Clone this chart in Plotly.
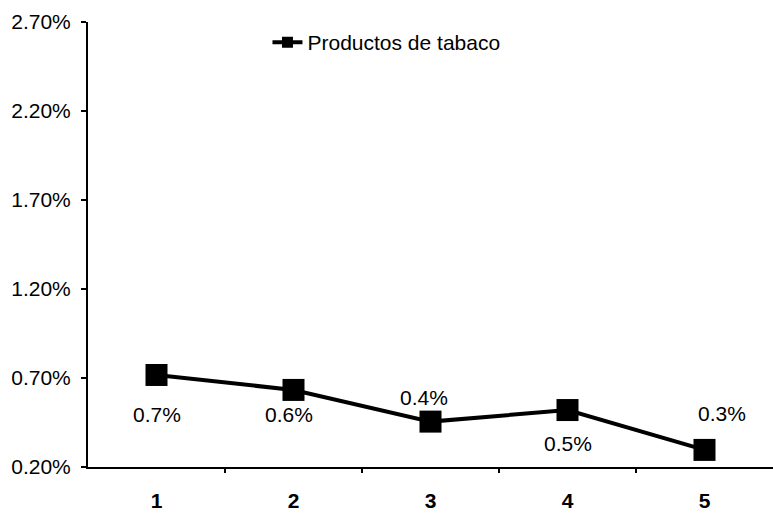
import plotly.graph_objects as go

categories = [1, 2, 3, 4, 5]
values = [0.717, 0.633, 0.455, 0.52, 0.296]
value_labels = ["0.7%", "0.6%", "0.4%", "0.5%", "0.3%"]
label_dy = [-40, -25, 24, -33, 36]
label_dx = [0, -5, -7, 0, 17]
y_ticks = [0.20, 0.70, 1.20, 1.70, 2.20, 2.70]
y_tick_text = ["0.20%", "0.70%", "1.20%", "1.70%", "2.20%", "2.70%"]
series_name = "Productos de tabaco"

FONT = "Liberation Sans, Arial, sans-serif"
FS = 21

fig = go.Figure()
fig.add_trace(go.Scatter(
    x=categories, y=values, mode="lines+markers", name=series_name,
    line=dict(color="black", width=4),
    marker=dict(symbol="square", size=22, color="black"),
    showlegend=False,
))
# legend entry with a smaller marker, as in the original
fig.add_trace(go.Scatter(
    x=[None], y=[None], mode="lines+markers", name=series_name,
    line=dict(color="black", width=4),
    marker=dict(symbol="square", size=11, color="black"),
    showlegend=True,
))

for xv, yv, t, dy, dx in zip(categories, values, value_labels, label_dy, label_dx):
    fig.add_annotation(
        x=xv, y=yv, xref="x", yref="y", text=t, showarrow=False,
        yshift=dy, xshift=dx,
        font=dict(family=FONT, size=FS, color="black"),
    )

fig.update_layout(
    width=773, height=514,
    margin=dict(l=88, r=0, t=22, b=47),
    paper_bgcolor="white", plot_bgcolor="white",
    font=dict(family=FONT, size=FS, color="black"),
    legend=dict(x=0.262, y=1.0, xanchor="left", yanchor="top",
                bgcolor="rgba(0,0,0,0)", font=dict(family=FONT, size=FS)),
    xaxis=dict(
        range=[0.5, 5.5], tickvals=categories,
        ticktext=["<b>%d</b>" % c for c in categories],
        ticks="", showgrid=False, zeroline=False, automargin=False,
        showline=True, linecolor="black", linewidth=2,
        ticklabelstandoff=14,
        minor=dict(tickvals=[1.5, 2.5, 3.5, 4.5], ticks="outside", ticklen=4,
                   tickcolor="black", tickwidth=2, showgrid=False),
        tickfont=dict(family=FONT, size=FS),
    ),
    yaxis=dict(
        range=[0.20, 2.70], tickvals=y_ticks, ticktext=y_tick_text,
        ticks="outside", ticklen=5, tickcolor="black", tickwidth=2,
        ticklabelstandoff=6, automargin=False,
        showgrid=False, zeroline=False,
        showline=True, linecolor="black", linewidth=2,
        tickfont=dict(family=FONT, size=FS),
    ),
)

fig.write_html("out.html")
